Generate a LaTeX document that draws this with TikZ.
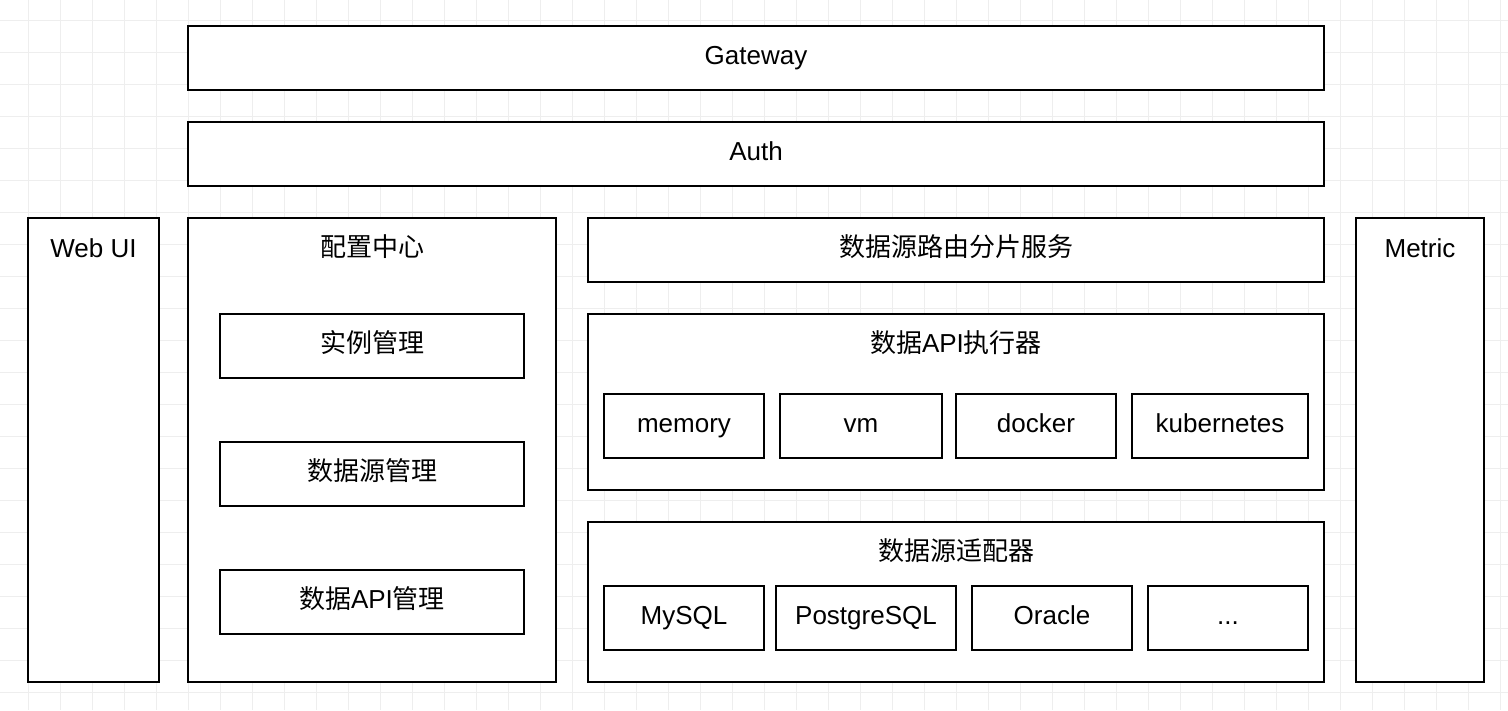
\documentclass[tikz,border=0pt]{standalone}
\usepackage{fontspec}
\setmainfont{Liberation Sans}
\newfontfamily\cjk{Noto Sans CJK SC}
\definecolor{gridc}{HTML}{EEEEEE}
\begin{document}
\begin{tikzpicture}[x=1pt,y=-1pt,
  every node/.style={font=\fontsize{26}{31}\selectfont, text height=18.5pt, text depth=5.5pt, inner sep=0pt},
  box/.style={draw=black, line width=2pt, fill=white},
  ttl/.style={}]
\useasboundingbox (0,0) rectangle (1508,710);
\fill[white] (0,0) rectangle (1508,710);
\foreach \i in {0,...,46} \draw[gridc, line width=1pt] (28+\i*32,0) -- (28+\i*32,710);
\foreach \j in {0,...,21} \draw[gridc, line width=1pt] (0,20+\j*32) -- (1508,20+\j*32);

\node[box, minimum width=1136pt, minimum height=64pt] (gateway) at (756,58) {Gateway};
\node[box, minimum width=1136pt, minimum height=64pt] (auth) at (756,154) {Auth};

\node[box, minimum width=131pt, minimum height=464pt] (webui) at (93.5,450) {};
\node[ttl] (webuit) at (93.5,250.5) {Web UI};

\node[box, minimum width=368pt, minimum height=464pt] (config) at (372,450) {};
\node[ttl] (configt) at (372,250) {\cjk 配置中心};
\node[box, minimum width=304pt, minimum height=64pt] (inst) at (372,346) {\cjk 实例管理};
\node[box, minimum width=304pt, minimum height=64pt] (dsm) at (372,474) {\cjk 数据源管理};
\node[box, minimum width=304pt, minimum height=64pt] (apim) at (372,602) {{\cjk 数据}API{\cjk 管理}};

\node[box, minimum width=736pt, minimum height=64pt] (route) at (956,250) {\cjk 数据源路由分片服务};

\node[box, minimum width=736pt, minimum height=176pt] (exec) at (956,402) {};
\node[ttl] (exect) at (956,346) {{\cjk 数据}API{\cjk 执行器}};
\node[box, minimum width=160pt, minimum height=64pt] (mem) at (684,426) {memory};
\node[box, minimum width=162pt, minimum height=64pt] (vm) at (861,426) {vm};
\node[box, minimum width=160pt, minimum height=64pt] (docker) at (1036,426) {docker};
\node[box, minimum width=176pt, minimum height=64pt] (k8s) at (1220,426) {kubernetes};

\node[box, minimum width=736pt, minimum height=160pt] (adapter) at (956,602) {};
\node[ttl] (adaptert) at (956,554) {\cjk 数据源适配器};
\node[box, minimum width=160pt, minimum height=64pt] (mysql) at (684,618) {MySQL};
\node[box, minimum width=180pt, minimum height=64pt] (pg) at (866,618) {PostgreSQL};
\node[box, minimum width=160pt, minimum height=64pt] (oracle) at (1052,618) {Oracle};
\node[box, minimum width=160pt, minimum height=64pt] (more) at (1228,618) {...};

\node[box, minimum width=128pt, minimum height=464pt] (metric) at (1420,450) {};
\node[ttl] (metrict) at (1420,250.5) {Metric};
\end{tikzpicture}
\end{document}
